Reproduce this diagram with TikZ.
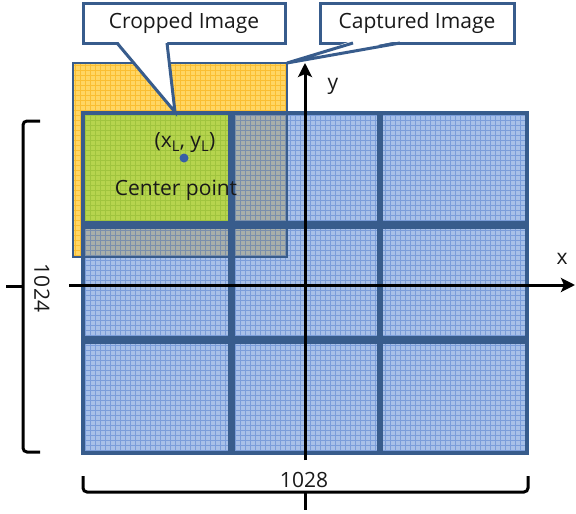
\documentclass[tikz,border=0pt]{standalone}
\usepackage{fontspec}
\setmainfont{Open Sans}
\usepackage{xcolor}
\usepackage{tikz}
\usetikzlibrary{
  arrows.meta,
  positioning,
  calc
}
\definecolor{FrameBlue}{RGB}{56, 92, 140}
\definecolor{CellBlue}{RGB}{110, 150, 217}
\definecolor{CellLine}{RGB}{70, 115, 200}
\definecolor{CapYellow}{RGB}{255, 214, 100}
\definecolor{CapLine}{RGB}{250, 190, 50}
\definecolor{CropGreen}{RGB}{182, 212, 78}
\definecolor{CropLine}{RGB}{160, 196, 62}
\definecolor{DotBlue}{RGB}{55, 95, 165}
\definecolor{DarkText}{RGB}{25, 25, 25}
\tikzset{
    labeltext/.style={font=\fontsize{21}{25}\selectfont, text=DarkText, inner sep=0pt},
    calloutbox/.style={rectangle, draw=FrameBlue, line width=3pt, fill=white,
        minimum height=40pt, inner sep=0pt, outer sep=0pt, labeltext},
    cellframe/.style={draw=FrameBlue, line width=3.5pt},
    texture/.style={line width=0.6pt, step=5pt},
    axisline/.style={line width=3pt, -{Stealth[length=14pt, width=14pt, inset=3pt]}},
    bracket/.style={line width=3pt, rounded corners=4pt}
}

\begin{document}
\begin{tikzpicture}[x=1pt, y=-1pt]
    \useasboundingbox (0,0) rectangle (576,514);

    % captured image
    \fill[CapYellow] (73,63) rectangle (287,257);
    \draw[texture, CapLine] (73,257) grid (287,63);
    \coordinate (capcorner) at (287,63);

    % 3x3 tiles
    \foreach \xa/\xb in {83/230, 233/379, 381/527}
      \foreach \ya/\yb in {113/223, 227/338, 342/453} {
        \fill[CellBlue, fill opacity=0.6] (\xa,\ya) rectangle (\xb,\yb);
        \draw[texture, CellLine, draw opacity=0.45] (\xa,\yb) grid (\xb,\ya);
      }
    \foreach \xa/\xb in {83/230, 233/379, 381/527}
      \foreach \ya/\yb in {113/223, 227/338, 342/453}
        \draw[cellframe] (\xa,\ya) rectangle (\xb,\yb);
    \draw[FrameBlue, line width=1.5pt] (73,63) rectangle (287,257);

    % cropped image
    \fill[CropGreen] (83,113) rectangle (230,223);
    \draw[texture, CropLine] (83,223) grid (230,113);
    \draw[cellframe] (83,113) rectangle (230,223);
    \coordinate (croptip) at (175,112);

    \fill[DotBlue] (184,158) circle (4.5pt);
    \node[labeltext] (xylabel) at (185,143) {(x\textsubscript{L}, y\textsubscript{L})};
    \node[labeltext] (cplabel) at (176,190) {Center point};

    % callouts
    \node[calloutbox, minimum width=202pt] (cropbox) at (184,23) {Cropped Image};
    \fill[white] ([xshift=-67pt, yshift=2.5pt]cropbox.south) -- (croptip) -- ([xshift=-17pt, yshift=2.5pt]cropbox.south) -- cycle;
    \draw[FrameBlue, line width=3pt] ([xshift=-67pt]cropbox.south) -- (croptip) -- ([xshift=-17pt]cropbox.south);

    \node[calloutbox, minimum width=194pt] (capbox) at (417,23) {Captured Image};
    \fill[white] ([xshift=-64pt, yshift=2.5pt]capbox.south) -- (capcorner) -- ([xshift=-17pt, yshift=2.5pt]capbox.south) -- cycle;
    \draw[FrameBlue, line width=3pt] ([xshift=-64pt]capbox.south) -- (capcorner) -- ([xshift=-17pt]capbox.south);

    % axes
    \coordinate (xstart) at (69,285);
    \coordinate (xend) at (575,285);
    \coordinate (ystart) at (305,460);
    \coordinate (yend) at (305,63);
    \draw[axisline] (xstart) -- (xend);
    \draw[axisline] (ystart) -- (yend);
    \node[labeltext] (xlabel) at (562,259) {x};
    \node[labeltext] (ylabel) at (333,86) {y};

    % size brackets
    \draw[bracket] (40,121) -- (23,121) -- (23,452) -- (40,452);
    \draw[line width=3pt] (23,286) -- (6,286);
    \node[labeltext, rotate=-90] (hlabel) at (42,288) {1024};

    \draw[bracket] (83,476) -- (83,492) -- (528,492) -- (528,476);
    \draw[line width=3pt] (305,492) -- (305,510);
    \node[labeltext] (wlabel) at (304,480) {1028};
\end{tikzpicture}
\end{document}
